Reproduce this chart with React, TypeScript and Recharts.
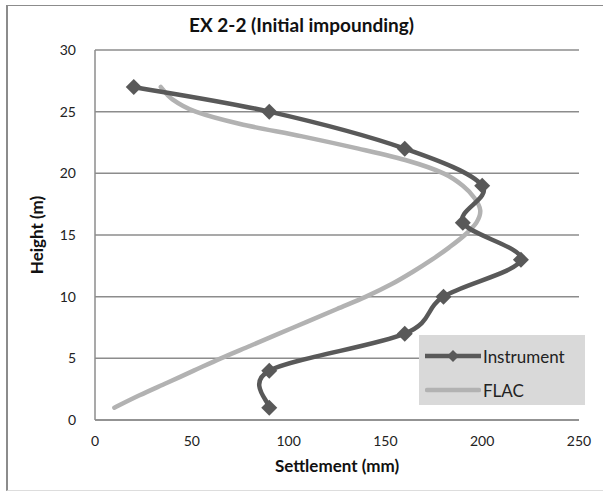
import React from 'react';
import {
  ComposedChart,
  Line,
  XAxis,
  YAxis,
  CartesianGrid,
  Legend,
  Label,
} from 'recharts';

// Instrument readings (settlement mm, height m)
const instrumentSettlement = [20, 90, 160, 200, 190, 220, 180, 160, 90, 90];
const instrumentHeight = [27, 25, 22, 19, 16, 13, 10, 7, 4, 1];

// FLAC prediction
const flacSettlement = [34, 40, 52, 75, 107, 136, 162, 180, 190, 196, 199, 197, 191, 183, 174, 164, 153, 140, 125, 110, 95, 80, 65, 51, 37, 23, 10];
const flacHeight = [27, 26, 25, 24, 23, 22, 21, 20, 19, 18, 17, 16, 15, 14, 13, 12, 11, 10, 9, 8, 7, 6, 5, 4, 3, 2, 1];

const xTicks = [0, 50, 100, 150, 200, 250];
const yTicks = [0, 5, 10, 15, 20, 25, 30];

const instrumentData = instrumentSettlement.map((x, i) => ({ x, y: instrumentHeight[i] }));
const flacData = flacSettlement.map((x, i) => ({ x, y: flacHeight[i] }));

const DARK = '#595959';
const LIGHT = '#b2b2b2';
const FONT = 'Lato, "Open Sans", sans-serif';

// Excel-style smoothed line (Catmull-Rom through every point)
const excelSmooth = (context: any) => {
  let pts: number[][] = [];
  return {
    areaStart() {},
    areaEnd() {},
    lineStart() {
      pts = [];
    },
    lineEnd() {
      if (!pts.length) return;
      context.moveTo(pts[0][0], pts[0][1]);
      for (let i = 0; i < pts.length - 1; i++) {
        const p0 = pts[i - 1] || pts[i];
        const p1 = pts[i];
        const p2 = pts[i + 1];
        const p3 = pts[i + 2] || p2;
        context.bezierCurveTo(
          p1[0] + (p2[0] - p0[0]) / 6,
          p1[1] + (p2[1] - p0[1]) / 6,
          p2[0] - (p3[0] - p1[0]) / 6,
          p2[1] - (p3[1] - p1[1]) / 6,
          p2[0],
          p2[1]
        );
      }
    },
    point(x: number, y: number) {
      pts.push([+x, +y]);
    },
  };
};

const Diamond = (props: any) => {
  const { cx, cy, index } = props;
  if (cx == null || cy == null) return null;
  const r = 8;
  return (
    <polygon
      key={`d-${index}`}
      points={`${cx},${cy - r} ${cx + r},${cy} ${cx},${cy + r} ${cx - r},${cy}`}
      fill={DARK}
    />
  );
};

const LegendBox = () => (
  <div
    style={{
      width: 166,
      height: 70,
      background: '#d9d9d9',
      fontFamily: FONT,
      fontSize: 17,
      color: '#222',
      boxSizing: 'border-box',
      paddingLeft: 6,
      paddingTop: 6,
    }}
  >
    <div style={{ display: 'flex', alignItems: 'center', height: 30 }}>
      <svg width={56} height={16}>
        <line x1={0} y1={8} x2={56} y2={8} stroke={DARK} strokeWidth={4.5} strokeLinecap="round" />
        <polygon points="28,2 34,8 28,14 22,8" fill={DARK} />
      </svg>
      <span style={{ marginLeft: 2 }}>Instrument</span>
    </div>
    <div style={{ display: 'flex', alignItems: 'center', height: 30, marginTop: 4 }}>
      <svg width={56} height={16}>
        <line x1={2} y1={8} x2={54} y2={8} stroke={LIGHT} strokeWidth={4.5} strokeLinecap="round" />
      </svg>
      <span style={{ marginLeft: 2 }}>FLAC</span>
    </div>
  </div>
);

export default function App() {
  return (
    <div style={{ position: 'absolute', left: 0, top: 0, width: 603, height: 491, background: '#fff', overflow: 'hidden' }}>
      <div
        style={{
          position: 'absolute',
          left: 6,
          top: 5,
          width: 640,
          height: 484,
          borderLeft: '2px solid #8c8c8c',
          borderTop: '1px solid #8c8c8c',
          borderBottom: '1px solid #dddddd',
        }}
      />
      <div
        style={{
          position: 'absolute',
          left: 0,
          top: 13,
          width: 603,
          textAlign: 'center',
          fontFamily: FONT,
          fontWeight: 700,
          fontSize: 19,
          color: '#111',
        }}
      >
        EX 2-2 (Initial impounding)
      </div>
      <div style={{ position: 'absolute', left: 0, top: 0 }}>
        <ComposedChart width={603} height={491} margin={{ top: 50, right: 24, bottom: 41, left: 0 }}>
          <CartesianGrid vertical={false} stroke="#8c8c8c" strokeWidth={1.5} />
          <XAxis
            type="number"
            dataKey="x"
            domain={[0, 250]}
            ticks={xTicks}
            height={30}
            tickLine={false}
            tickSize={6}
            tickMargin={10}
            axisLine={{ stroke: '#8c8c8c', strokeWidth: 1.5 }}
            tick={{ fontSize: 14, fill: '#222', fontFamily: FONT }}
          >
            <Label
              value="Settlement (mm)"
              position="bottom"
              offset={10}
              style={{ fontSize: 17, fontWeight: 700, fill: '#111', fontFamily: FONT }}
            />
          </XAxis>
          <YAxis
            type="number"
            dataKey="y"
            domain={[0, 30]}
            ticks={yTicks}
            width={95}
            tickLine={false}
            tickSize={6}
            tickMargin={13}
            axisLine={{ stroke: '#8c8c8c', strokeWidth: 1.5 }}
            tick={{ fontSize: 14, fill: '#222', fontFamily: FONT }}
          >
            <Label
              value="Height (m)"
              angle={-90}
              position="insideLeft"
              offset={37}
              style={{ textAnchor: 'middle', fontSize: 17, fontWeight: 700, fill: '#111', fontFamily: FONT }}
            />
          </YAxis>
          <Legend
            layout="vertical"
            align="center"
            verticalAlign="middle"
            wrapperStyle={{ left: 419, top: 335, width: 166, height: 70 }}
            content={() => <LegendBox />}
          />
          <Line
            data={flacData}
            dataKey="y"
            name="FLAC"
            type={excelSmooth as any}
            stroke={LIGHT}
            strokeWidth={4.5}
            strokeLinecap="round"
            dot={false}
            activeDot={false}
            isAnimationActive={false}
          />
          <Line
            data={instrumentData}
            dataKey="y"
            name="Instrument"
            type={excelSmooth as any}
            stroke={DARK}
            strokeWidth={4.5}
            dot={Diamond}
            activeDot={false}
            isAnimationActive={false}
          />
        </ComposedChart>
      </div>
    </div>
  );
}
